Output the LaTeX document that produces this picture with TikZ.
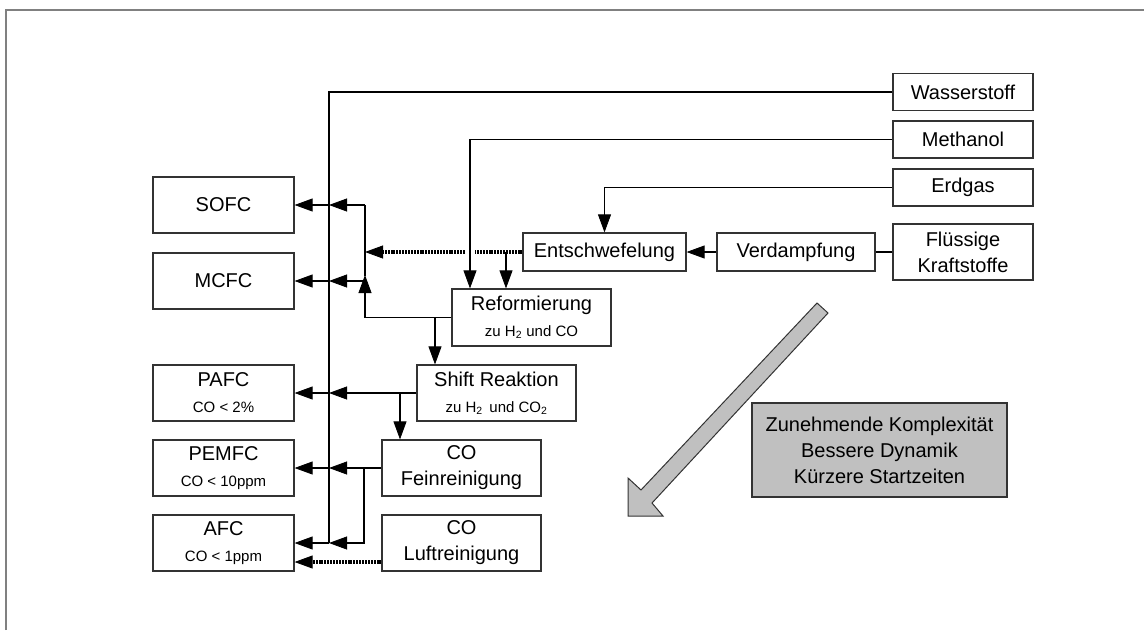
\documentclass[tikz,border=0pt]{standalone}
\usepackage{fontspec}
\setmainfont{Liberation Sans}
\usetikzlibrary{arrows.meta}
\definecolor{boxgray}{HTML}{C0C0C0}
\newcommand{\klein}{\fontsize{15}{24}\selectfont}

\begin{document}
\begin{tikzpicture}[x=1pt,y=-1pt,
    >={Triangle[length=18pt,width=13pt,line width=0.8pt]},
    blk/.style={draw=black!80,line width=1.2pt,fill=white,inner sep=0pt,
      align=center,font=\fontsize{20}{26}\selectfont},
    fc/.style={blk,minimum width=141pt,minimum height=56pt},
    src/.style={blk,minimum width=140pt,minimum height=37pt},
    stage/.style={blk,minimum width=159pt,minimum height=56pt},
    flow/.style={line width=1.8pt},
    dots/.style={line width=3.6pt,dash pattern=on 2pt off 0.9pt}]
  \useasboundingbox (0,0) rectangle (1144,630);
  \draw[gray,line width=2pt] (6,630) -- (6,10) -- (1144,10);

  % fuel cells -----------------------------------------------------------------
  \node[fc] (sofc)  at (223.5,205) {SOFC};
  \node[fc] (mcfc)  at (223.5,281) {MCFC};
  \node[fc] (pafc)  at (223.5,393) {PAFC\\\klein CO < 2\%};
  \node[fc] (pemfc) at (223.5,468) {PEMFC\\\klein CO < 10ppm};
  \node[fc] (afc)   at (223.5,543) {AFC\\\klein CO < 1ppm};

  % fuels ----------------------------------------------------------------------
  \node[src] (wasser)   at (963,92)    {Wasserstoff};
  \node[src] (methanol) at (963,139.5) {Methanol};
  \node[src] (erdgas)   at (963,187.5) {Erdgas};
  \node[src,minimum height=56pt] (fluessig) at (963,252) {Flüssige\\Kraftstoffe};

  % processing -----------------------------------------------------------------
  \node[blk,minimum width=158pt,minimum height=38pt] (verdampf) at (796,252) {Verdampfung};
  \node[blk,minimum width=163pt,minimum height=38pt] (entschw)  at (604.5,252) {Entschwefelung};
  \node[stage,minimum height=57pt] (reform) at (531.5,317.5) {Reformierung\\\klein zu H\textsubscript{2} und CO};
  \node[stage] (shift) at (496.5,393) {Shift Reaktion\\\klein zu H\textsubscript{2}\, und CO\textsubscript{2}};
  \node[stage] (fein)  at (461.5,468) {CO\\Feinreinigung};
  \node[stage] (luft)  at (461.5,543) {CO\\Luftreinigung};

  % hydrogen bus ---------------------------------------------------------------
  \coordinate (bus) at (329,543);
  \coordinate (col) at (365,318);
  \draw[flow] (wasser.west) -| (bus);
  \foreach \n in {sofc,mcfc,pafc,pemfc,afc}
    \draw[flow,->] (bus |- \n) -- (\n.east);

  % reformer gas to SOFC / MCFC -------------------------------------------------
  \draw[flow,->] (reform.west) -| (365,275);
  \draw[flow] (365,276) -- (col |- sofc);
  \draw[flow,->] (col |- sofc) -- (bus |- sofc);
  \draw[flow,->] (col |- mcfc) -- (bus |- mcfc);
  \draw[dots] (entschw.west) -- (475,252);
  \draw[dots,->] (465,252) -- (col |- entschw);

  % fuel paths -----------------------------------------------------------------
  \coordinate (j1) at (506,252);
  \draw[flow,->] (j1) -- (j1 |- reform.north);
  \draw[flow,->] (methanol.west) -| ([xshift=-61.5pt]reform.north);
  \draw[flow,->] (erdgas.west) -| (entschw.north);
  \draw[flow] (fluessig.west) -- (verdampf.east);
  \draw[flow,->] (verdampf.west) -- (entschw.east);

  % gas cleaning ---------------------------------------------------------------
  \coordinate (j2) at (435,318);
  \coordinate (j3) at (400,393);
  \coordinate (j4) at (364,468);
  \draw[flow,->] (j2) -- (j2 |- shift.north);
  \draw[flow,->] (shift.west) -- (bus |- shift);
  \draw[flow,->] (j3) -- (j3 |- fein.north);
  \draw[flow,->] (fein.west) -- (bus |- fein);
  \draw[flow,->] (j4) |- (bus |- afc);
  \draw[dots,->] ([yshift=-19pt]luft.west) -- ([yshift=-19pt]afc.east);

  % trend arrow ----------------------------------------------------------------
  \draw[fill=boxgray,draw=black!80,line width=1pt]
        (628,516) -- (628,478) -- (641,490) -- (817,303) -- (828,313)
        -- (652,503) -- (663,516) -- cycle;
  \node[blk,fill=boxgray,minimum width=255pt,minimum height=94pt] (trend) at (879.5,450)
        {Zunehmende Komplexität\\Bessere Dynamik\\Kürzere Startzeiten};
\end{tikzpicture}
\end{document}
